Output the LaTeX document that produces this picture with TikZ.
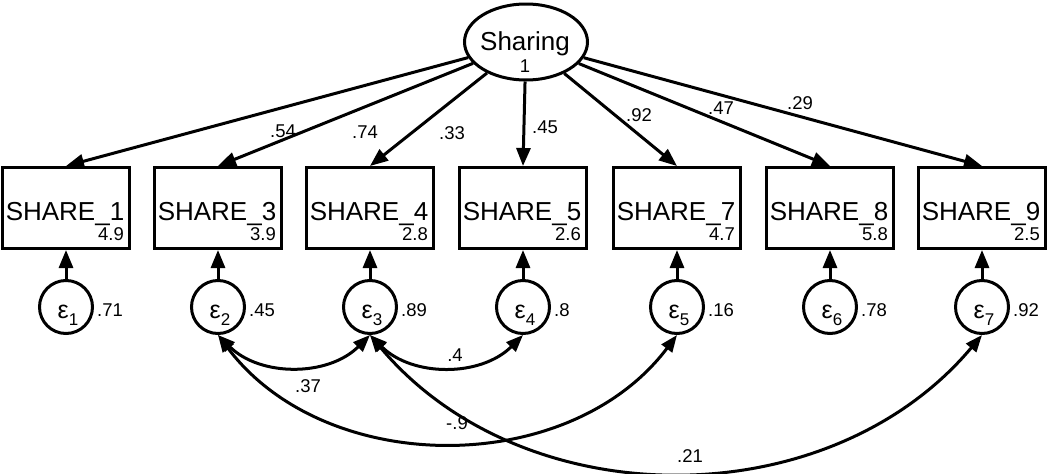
\documentclass[tikz,border=0pt]{standalone}
\usepackage{fontspec}
\setmainfont{Liberation Sans}
\usetikzlibrary{arrows.meta,shapes.geometric}
\begin{document}
\begin{tikzpicture}[x=1pt,y=-1pt,
  ln/.style={line width=3pt},
  tip/.style={-{Triangle[length=18pt,width=14pt]}},
  dtip/.style={{Triangle[length=17pt,width=13pt]}-{Triangle[length=17pt,width=13pt]}},
  latent/.style={ellipse,draw,ln,minimum width=123pt,minimum height=76pt,inner sep=0pt},
  obs/.style={rectangle,draw,ln,minimum width=127pt,minimum height=81pt,inner sep=0pt},
  err/.style={circle,draw,ln,minimum size=53pt,inner sep=0pt},
  big/.style={font=\fontsize{26}{26}\selectfont,inner sep=0pt,anchor=base},
  small/.style={font=\fontsize{18.5}{18.5}\selectfont,inner sep=0pt},
  eps/.style={font=\fontsize{25}{25}\selectfont,inner sep=0pt,anchor=base}
]
\useasboundingbox (0,0) rectangle (1050,474);
\newcommand{\epsl}[1]{ε\raisebox{-0.28em}{\fontsize{17}{17}\selectfont #1}}

% latent
\node[latent] (sh) at (526,42) {};
\node[big] (shtxt) at (525,50) {Sharing};
\node[small,anchor=base] (shvar) at (525,72) {1};

% observed boxes
\foreach \i/\x/\n/\c in {1/66/1/4.9, 2/218/3/3.9, 3/370/4/2.8, 4/523/5/2.6, 5/677/7/4.7, 6/830/8/5.8, 7/982/9/2.5}{
  \node[obs] (s\i) at (\x,208) {};
  \node[big] (t\i) at (\x-1,220) {SHARE\_\n};
  \node[small,anchor=base east] (c\i) at (\x+58,240) {\c};
}

% error circles
\foreach \i/\x/\v in {1/66/.71, 2/218/.45, 3/370/.89, 4/523/.8, 5/677/.16, 6/830/.78, 7/982/.92}{
  \node[err] (e\i) at (\x,307) {};
  \node[eps] (et\i) at (\x+2,318) {\epsl{\i}};
  \node[small,anchor=west] (v\i) at (\x+31,310) {\v};
  \draw[ln,tip] (e\i) -- (s\i);
}

% loadings
\foreach \i in {1,...,7}{
  \draw[ln,tip] (sh) -- (s\i.north);
}
\node[small] (l1) at (283,131) {.54};
\node[small] (l2) at (365,132) {.74};
\node[small] (l3) at (452,133) {.33};
\node[small] (l4) at (545,127) {.45};
\node[small] (l5) at (639,115) {.92};
\node[small] (l6) at (721,108) {.47};
\node[small] (l7) at (800,103) {.29};

% covariances
\draw[ln,dtip] (e2.south) to[out=-45,in=-135] (e3.south);
\draw[ln,dtip] (e3.south) to[out=-45,in=-135] (e4.south);
\draw[ln,dtip] (e2.south) to[out=-53,in=-127] (e5.south);
\draw[ln,dtip] (e3.south) to[out=-50,in=-130] (e7.south);
\node[small] (k1) at (308,386) {.37};
\node[small] (k2) at (455,355) {.4};
\node[small] (k3) at (457,423) {-.9};
\node[small] (k4) at (690,456) {.21};
\end{tikzpicture}
\end{document}
